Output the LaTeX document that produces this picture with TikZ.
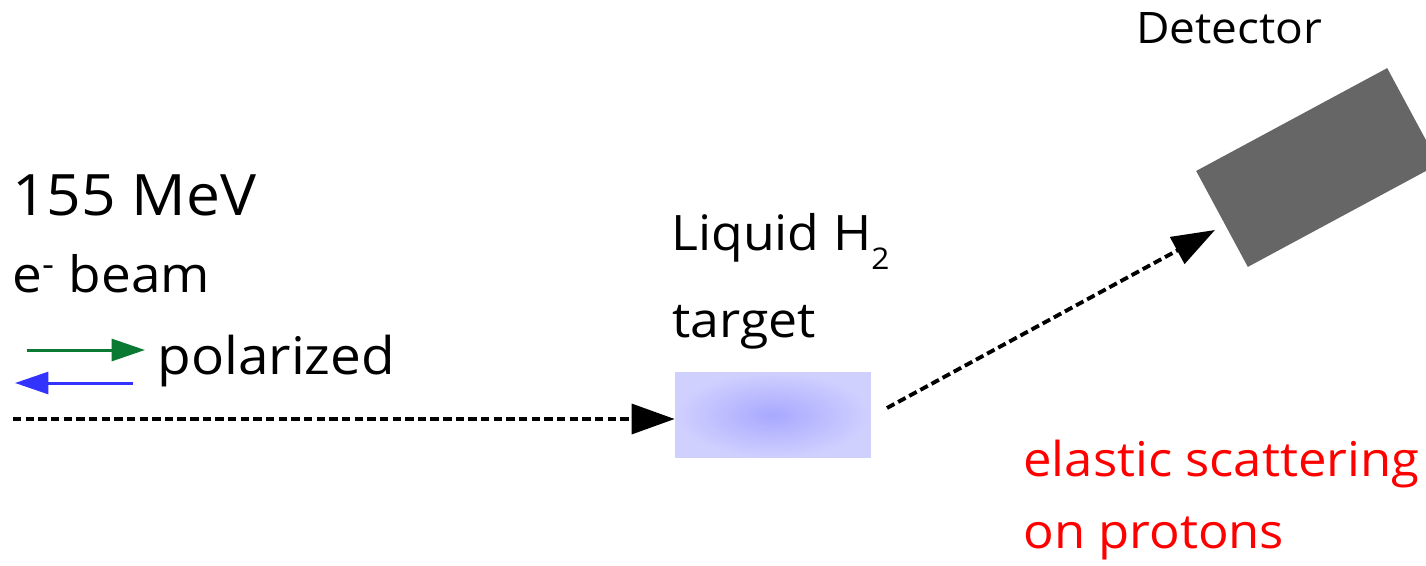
\documentclass[tikz,border=0pt]{standalone}
\usepackage{fontspec}
\setmainfont[FakeStretch=1.06]{Open Sans}
\usetikzlibrary{arrows.meta}
\definecolor{polgreen}{RGB}{10,122,50}
\definecolor{polblue}{RGB}{51,51,255}
\definecolor{detgray}{RGB}{102,102,102}
\definecolor{tgtlight}{RGB}{208,208,255}
\definecolor{tgtdark}{RGB}{168,168,255}
\begin{document}
\begin{tikzpicture}[x=0.02cm,y=-0.02cm,
	lbl/.style={anchor=base west,inner sep=0pt},
	track/.style={line width=2.2pt,dash pattern=on 4.8pt off 2.4pt,-{Triangle[length=24.5pt,width=17pt]}},
	spin/.style={line width=1.7pt,-{Triangle[length=19pt,width=12.5pt]}}]
	\useasboundingbox (0,0) rectangle (1426,565);
	\clip (0,0) rectangle (1426,565);

	%beam
	\node[lbl,font=\fontsize{32.5}{38}\selectfont] (energy) at (12,215){155 MeV};
	\node[lbl,font=\fontsize{28.5}{34}\selectfont] (beam) at (12,292){e\textsuperscript{-} beam};
	\node[lbl,font=\fontsize{29.5}{35}\selectfont] (pol) at (157,374){polarized};
	\coordinate (greenL) at (27,350);
	\coordinate (greenR) at (145,350);
	\coordinate (blueR) at (133,383);
	\coordinate (blueL) at (15,383);
	\draw[spin,polgreen] (greenL) -- (greenR);
	\draw[spin,polblue] (blueR) -- (blueL);

	%target
	\node[inner sep=0pt,minimum width=3.92cm,minimum height=1.72cm,
		shade,inner color=tgtdark,outer color=tgtlight] (target) at (773,415){};
	\node[lbl,font=\fontsize{27.8}{33}\selectfont] (liquid) at (671,250){Liquid H\raisebox{-11pt}{\fontsize{17}{17}\selectfont 2}};
	\node[lbl,font=\fontsize{27.8}{33}\selectfont] (tgtname) at (672,337){target};
	\coordinate (beamstart) at (13,419);
	\draw[track] (beamstart) -- (beamstart -| target.west);

	%detector
	\node[fill=detgray,inner sep=0pt,minimum width=4.34cm,minimum height=2.18cm,rotate=28.3] (detector) at (1317.5,167.5){};
	\node[lbl,font=\fontsize{24.7}{29}\selectfont] (detname) at (1136,43){Detector};
	\coordinate (scatstart) at (887,408);
	\coordinate (scatend) at (1215,230);
	\draw[track] (scatstart) -- (scatend);

	\node[lbl,red,font=\fontsize{27.3}{33}\selectfont] (elastic) at (1023,476){elastic scattering};
	\node[lbl,red,font=\fontsize{27.3}{33}\selectfont] (protons) at (1023,548){on protons};
\end{tikzpicture}
\end{document}
